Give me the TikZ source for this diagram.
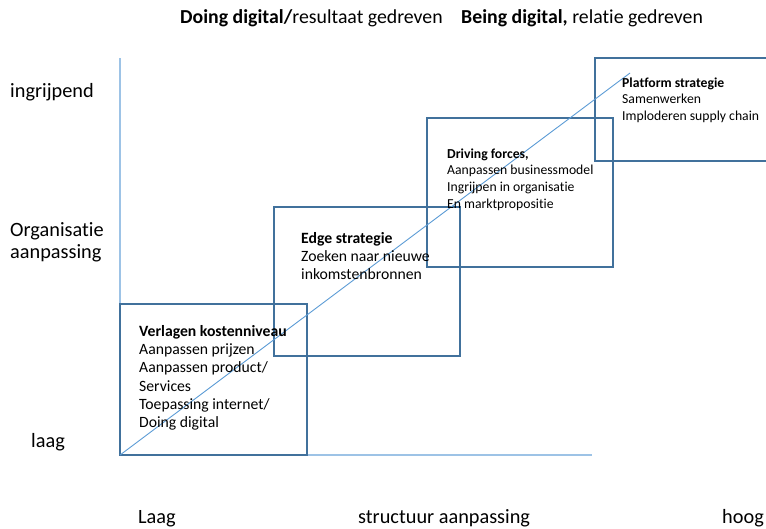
\documentclass[tikz,border=0pt]{standalone}
\usepackage{fontspec}
\setmainfont{Carlito}[Ligatures=NoCommon]
\usetikzlibrary{calc}
\definecolor{boxblue}{RGB}{65,113,156}
\definecolor{axisblue}{RGB}{157,195,230}
\definecolor{diagblue}{RGB}{91,155,213}

\begin{document}
\begin{tikzpicture}[x=1pt, y=-1pt,
		box/.style={draw=boxblue, line width=1.3pt},
		axis/.style={draw=axisblue, line width=2pt},
		diag/.style={draw=diagblue, line width=0.9pt},
		boxtext/.style={anchor=north west, inner sep=0pt, align=left, font=\fontsize{15.7}{18.3}\selectfont},
		smalltext/.style={anchor=north west, inner sep=0pt, align=left, font=\fontsize{13.7}{16.6}\selectfont},
		axislabel/.style={inner sep=0pt, align=left, font=\fontsize{20.3}{22}\selectfont},
		titletext/.style={anchor=base west, inner sep=0pt, font=\fontsize{19.8}{22}\selectfont}]
		%%%%% START %%%%%
		
		\useasboundingbox (0, 0) rectangle (766, 528);
		
		% titel
		\node[titletext] (titleleft) at (180, 23) {\textbf{Doing digital/}resultaat gedreven};
		\node[titletext] (titleright) at (461, 23) {\textbf{Being digital,} relatie gedreven};
		
		% assen
		\coordinate (origin) at (120, 455);
		\coordinate (ytop) at (120, 58);
		\coordinate (xend) at (592, 455);
		\draw[axis] (ytop) -- (origin) -- (xend);
		
		% blokken
		\draw[box] (120, 304) rectangle (307, 455);
		\draw[box] (274, 207) rectangle (460, 356);
		\draw[box] (427, 118) rectangle (613, 267);
		\draw[box] (595, 58) rectangle (790, 161);
		
		% diagonaal
		\coordinate (diagtop) at (630, 73);
		\draw[diag] (origin) -- (diagtop);
		
		% tekst in de blokken
		\node[boxtext] (verlagen) at (139, 325) {\textbf{Verlagen kostenniveau}\\Aanpassen prijzen\\Aanpassen product/\\Services\\Toepassing internet/\\Doing digital};
		\node[boxtext] (edge) at (301, 232) {\textbf{Edge strategie}\\Zoeken naar nieuwe\\inkomstenbronnen};
		\node[smalltext] (driving) at (447, 148.5) {\textbf{Driving forces,}\\Aanpassen businessmodel\\Ingrijpen in organisatie\\En marktpropositie};
		\node[smalltext] (platform) at (622, 77.5) {\textbf{Platform strategie}\\Samenwerken\\Imploderen supply chain};
		
		% labels y-as
		\node[axislabel, anchor=base west] (ingrijpend) at (10, 97) {ingrijpend};
		\node[axislabel, anchor=base west] (organisatie) at (10, 236) {Organisatie};
		\node[axislabel, anchor=base west] (aanpassing) at (10, 258) {aanpassing};
		\node[axislabel, anchor=base west] (laag) at (31, 447) {laag};
		
		% labels x-as
		\node[axislabel, anchor=base west] (xlaag) at (138, 523) {Laag};
		\node[axislabel, anchor=base west] (structuur) at (358, 523) {structuur aanpassing};
		\node[axislabel, anchor=base west] (hoog) at (722, 523) {hoog};
		
		%%%%% END %%%%%
	\end{tikzpicture}
\end{document}
